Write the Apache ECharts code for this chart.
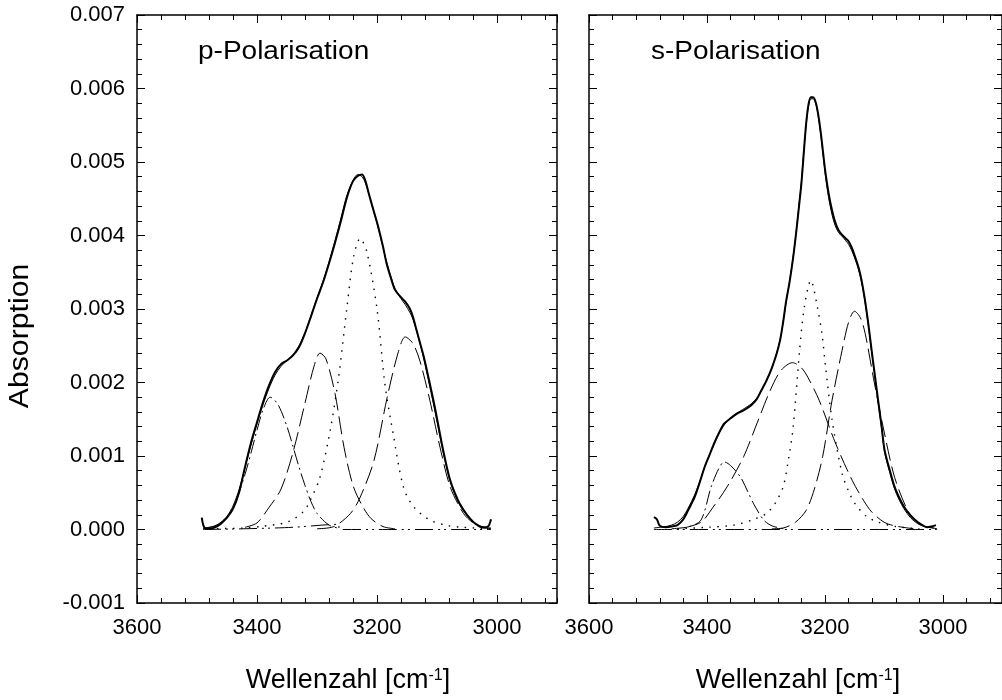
<!DOCTYPE html>
<html><head><meta charset="utf-8">
<script src="https://cdn.jsdelivr.net/npm/echarts@6/dist/echarts.min.js"></script>
<style>html,body{margin:0;padding:0;background:#fff}#c{width:1002px;height:700px}</style>
</head><body><div id="c"></div>
<script>
// ---- tick labels ----
const xTickLabels = [3600, 3400, 3200, 3000];
const yTickLabels = [-0.001, 0.000, 0.001, 0.002, 0.003, 0.004, 0.005, 0.006, 0.007];

// ---- p-Polarisation ----
const pMeasWn  = [3492,3488,3480,3470,3460,3450,3440,3430,3420,3410,3400,3390,3380,3370,3360,3350,3340,3330,3320,3310,3300,3290,3280,3270,3260,3250,3240,3232,3225,3220,3212,3205,3198,3190,3184,3176,3170,3160,3153,3145,3140,3134,3128,3122,3114,3106,3099,3092,3085,3078,3070,3062,3050,3039,3030,3023,3015,3010];
const pMeasAbs = [0.00016,0.00003,0.00001,0.00003,0.00008,0.00016,0.00028,0.00050,0.00085,0.00118,0.00146,0.00173,0.00196,0.00214,0.00225,0.00230,0.00237,0.00248,0.00267,0.00290,0.00314,0.00336,0.00362,0.00390,0.00420,0.00452,0.00474,0.00481,0.00483,0.00476,0.00452,0.00432,0.00412,0.00385,0.00362,0.00340,0.00326,0.00316,0.00310,0.00300,0.00289,0.00271,0.00253,0.00235,0.00206,0.00176,0.00147,0.00117,0.00090,0.00067,0.00049,0.00035,0.00020,0.00010,0.00005,0.00003,0.00004,0.00014];
const pFitWn   = [3490,3480,3470,3460,3450,3440,3430,3420,3410,3400,3390,3380,3370,3360,3350,3340,3330,3320,3310,3300,3290,3280,3270,3260,3250,3240,3232,3225,3220,3212,3205,3198,3190,3184,3176,3170,3160,3153,3145,3140,3134,3128,3122,3114,3106,3099,3092,3085,3078,3070,3062,3050,3039,3030,3020,3010];
const pFitAbs  = [0.00002,0.00003,0.00005,0.00010,0.00018,0.00032,0.00054,0.00084,0.00115,0.00144,0.00170,0.00192,0.00210,0.00222,0.00230,0.00238,0.00250,0.00268,0.00291,0.00315,0.00338,0.00364,0.00393,0.00424,0.00455,0.00475,0.00483,0.00480,0.00473,0.00452,0.00431,0.00410,0.00384,0.00364,0.00342,0.00328,0.00314,0.00306,0.00295,0.00286,0.00270,0.00252,0.00232,0.00202,0.00171,0.00143,0.00114,0.00088,0.00065,0.00047,0.00033,0.00019,0.00010,0.00005,0.00003,0.00002];
const pC1Wn  = [3490,3460,3440,3420,3400,3390,3378,3365,3350,3340,3330,3320,3310,3300,3280,3260];
const pC1Abs = [0.00001,0.00008,0.00030,0.00075,0.00135,0.00163,0.00180,0.00170,0.00140,0.00113,0.00085,0.00060,0.00038,0.00022,0.00006,0.00001];
const pC2Wn  = [3420,3400,3380,3360,3340,3320,3305,3295,3285,3270,3255,3240,3225,3210,3190,3170];
const pC2Abs = [0.00003,0.00009,0.00030,0.00055,0.00105,0.00172,0.00222,0.00240,0.00232,0.00185,0.00112,0.00060,0.00033,0.00015,0.00004,0.00001];
const pC3Wn  = [3480,3420,3395,3350,3323,3310,3295,3278,3264,3250,3239,3228,3217,3200,3187,3173,3156,3139,3112,3080,3056,3010];
const pC3Abs = [0.00001,0.00002,0.00004,0.00010,0.00024,0.00042,0.00071,0.00135,0.00207,0.00303,0.00371,0.00396,0.00378,0.00300,0.00199,0.00130,0.00058,0.00031,0.00013,0.00005,0.00003,0.00001];
const pC4Wn  = [3300,3272,3244,3228,3205,3183,3165,3153,3140,3128,3112,3095,3078,3056,3040,3028,3010];
const pC4Abs = [0.00001,0.00004,0.00022,0.00044,0.00094,0.00180,0.00240,0.00262,0.00253,0.00228,0.00176,0.00112,0.00058,0.00022,0.00009,0.00003,0.00001];
const pBaseWn  = [3490,3420,3340,3265,3262,3200,3010];
const pBaseAbs = [0.00000,0.00001,0.00003,0.00007,0.00000,0.00000,0.00000];

// ---- s-Polarisation ----
const sMeasWn  = [3490,3485,3480,3470,3460,3450,3440,3432,3421,3412,3404,3396,3388,3380,3371,3362,3354,3346,3340,3332,3325,3316,3308,3299,3290,3282,3276,3271,3266,3260,3254,3249,3244,3240,3236,3232,3228,3224,3220,3215,3211,3207,3203,3199,3194,3188,3183,3177,3170,3165,3160,3155,3149,3143,3138,3133,3129,3125,3121,3116,3110,3104,3099,3090,3082,3074,3066,3055,3043,3035,3027,3020,3012];
const sMeasAbs = [0.00017,0.00014,0.00005,0.00003,0.00004,0.00006,0.00014,0.00026,0.00044,0.00065,0.00085,0.00101,0.00117,0.00131,0.00144,0.00150,0.00155,0.00159,0.00161,0.00165,0.00169,0.00177,0.00189,0.00203,0.00220,0.00239,0.00258,0.00282,0.00310,0.00337,0.00370,0.00403,0.00440,0.00471,0.00512,0.00552,0.00578,0.00588,0.00588,0.00579,0.00562,0.00539,0.00511,0.00484,0.00458,0.00434,0.00419,0.00407,0.00400,0.00396,0.00392,0.00384,0.00371,0.00356,0.00339,0.00316,0.00294,0.00270,0.00244,0.00213,0.00176,0.00140,0.00108,0.00080,0.00058,0.00043,0.00031,0.00019,0.00010,0.00006,0.00003,0.00004,0.00006];
const sFitWn   = [3490,3480,3470,3460,3450,3440,3432,3421,3412,3404,3396,3388,3380,3371,3362,3354,3346,3340,3332,3325,3316,3308,3299,3290,3282,3276,3271,3266,3260,3254,3249,3244,3240,3236,3232,3228,3224,3220,3215,3211,3207,3203,3199,3194,3188,3183,3177,3170,3165,3160,3155,3149,3143,3138,3133,3129,3125,3121,3116,3110,3104,3099,3090,3082,3074,3066,3055,3043,3035,3027,3015];
const sFitAbs  = [0.00002,0.00003,0.00004,0.00006,0.00010,0.00018,0.00029,0.00047,0.00066,0.00085,0.00101,0.00116,0.00130,0.00142,0.00150,0.00156,0.00160,0.00163,0.00167,0.00171,0.00178,0.00189,0.00203,0.00220,0.00240,0.00259,0.00282,0.00309,0.00338,0.00371,0.00404,0.00442,0.00473,0.00513,0.00550,0.00576,0.00586,0.00586,0.00577,0.00560,0.00536,0.00508,0.00480,0.00452,0.00428,0.00414,0.00404,0.00398,0.00393,0.00388,0.00380,0.00368,0.00353,0.00336,0.00314,0.00292,0.00268,0.00242,0.00211,0.00173,0.00137,0.00105,0.00077,0.00055,0.00040,0.00028,0.00016,0.00008,0.00005,0.00003,0.00002];
const sC1Wn  = [3460,3430,3410,3393,3380,3371,3360,3343,3330,3321,3304,3290,3270];
const sC1Abs = [0.00001,0.00004,0.00013,0.00058,0.00083,0.00092,0.00087,0.00071,0.00050,0.00035,0.00013,0.00005,0.00001];
const sC2Wn  = [3440,3410,3390,3366,3338,3315,3293,3275,3255,3240,3229,3210,3182,3154,3135,3121,3100,3082,3050];
const sC2Abs = [0.00002,0.00010,0.00030,0.00058,0.00099,0.00145,0.00189,0.00216,0.00227,0.00220,0.00207,0.00176,0.00117,0.00067,0.00040,0.00024,0.00010,0.00005,0.00001];
const sC3Wn  = [3450,3400,3354,3320,3299,3285,3271,3262,3254,3243,3235,3224,3213,3205,3199,3188,3171,3160,3149,3130,3110,3080,3040];
const sC3Abs = [0.00001,0.00003,0.00006,0.00014,0.00022,0.00035,0.00058,0.00095,0.00139,0.00244,0.00303,0.00339,0.00303,0.00265,0.00221,0.00149,0.00076,0.00052,0.00035,0.00018,0.00010,0.00004,0.00001];
const sC4Wn  = [3290,3271,3250,3232,3218,3204,3188,3171,3160,3150,3140,3132,3116,3099,3082,3060,3045,3032,3010];
const sC4Abs = [0.00001,0.00002,0.00010,0.00026,0.00055,0.00099,0.00176,0.00244,0.00282,0.00297,0.00288,0.00267,0.00198,0.00130,0.00071,0.00026,0.00011,0.00005,0.00001];
const sBaseWn  = [3490,3010];
const sBaseAbs = [0.00000,0.00000];

// ---- build ----
const FONT = '"Liberation Sans", Arial, sans-serif';
const pts = (wn, ab) => wn.map((w, i) => [-w, ab[i]]);
const BLACK = '#000';

function xAxes(g) {
  const common = {gridIndex: g, type: 'value', min: -3600, max: -2900, splitLine: {show: false}};
  return [
    Object.assign({}, common, {position: 'bottom', interval: 200,
      axisLine: {show: true, onZero: false, lineStyle: {color: BLACK, width: 1.5}},
      axisTick: {show: true, inside: true, length: 8, lineStyle: {color: BLACK, width: 1}},
      axisLabel: {show: true, margin: 14, color: BLACK, fontSize: 22, fontFamily: FONT,
        showMinLabel: true, showMaxLabel: false,
        formatter: v => xTickLabels.indexOf(Math.round(-v)) >= 0 ? String(Math.round(-v)) : ''}}),
    Object.assign({}, common, {position: 'bottom', interval: 40,
      axisLine: {show: false, onZero: false},
      axisTick: {show: true, inside: true, length: 5, lineStyle: {color: BLACK, width: 1}},
      axisLabel: {show: false}}),
    Object.assign({}, common, {position: 'top', interval: 200,
      axisLine: {show: true, onZero: false, lineStyle: {color: BLACK, width: 1.5}},
      axisTick: {show: true, inside: true, length: 8, lineStyle: {color: BLACK, width: 1}},
      axisLabel: {show: false}}),
    Object.assign({}, common, {position: 'top', interval: 40,
      axisLine: {show: false, onZero: false},
      axisTick: {show: true, inside: true, length: 5, lineStyle: {color: BLACK, width: 1}},
      axisLabel: {show: false}})
  ];
}
function yAxes(g, labels) {
  const common = {gridIndex: g, type: 'value', min: -0.001, max: 0.007, interval: 0.001,
    splitLine: {show: false}, minorSplitLine: {show: false},
    axisLine: {show: true, onZero: false, lineStyle: {color: BLACK, width: 1.5}},
    axisTick: {show: true, inside: true, length: 8, lineStyle: {color: BLACK, width: 1}},
    minorTick: {show: true, splitNumber: 5, length: 5, lineStyle: {color: BLACK, width: 1}}};
  return [
    Object.assign({}, common, {position: 'left',
      axisLabel: {show: labels, margin: 12, color: BLACK, fontSize: 22, fontFamily: FONT,
        showMinLabel: true, showMaxLabel: true,
        formatter: v => {
          let best = yTickLabels[0];
          yTickLabels.forEach(t => { if (Math.abs(t - v) < Math.abs(best - v)) best = t; });
          return best.toFixed(3);
        }}}),
    Object.assign({}, common, {position: 'right', axisLabel: {show: false}})
  ];
}
function line(data, xi, yi, width, type) {
  return {type: 'line', data: data, xAxisIndex: xi, yAxisIndex: yi, showSymbol: false, symbol: 'none',
    smooth: 0.3, silent: true, animation: false,
    lineStyle: {color: BLACK, width: width, type: type}};
}
const DASH = [18, 6], DOT = [1.5, 6.5], DASHDOT = [14, 4, 2, 4], DASHDOTDOT = [18, 5, 2, 4, 2, 5];

const option = {
  backgroundColor: '#fff',
  animation: false,
  grid: [
    {left: 137, top: 15, width: 420, height: 588},
    {left: 589, top: 15, width: 420, height: 588}
  ],
  xAxis: xAxes(0).concat(xAxes(1)),
  yAxis: yAxes(0, true).concat(yAxes(1, false)),
  series: [
    line(pts(pBaseWn, pBaseAbs), 0, 0, 1, DASHDOTDOT),
    line(pts(pC1Wn, pC1Abs), 0, 0, 1, DASHDOT),
    line(pts(pC2Wn, pC2Abs), 0, 0, 1, DASH),
    line(pts(pC3Wn, pC3Abs), 0, 0, 1.4, DOT),
    line(pts(pC4Wn, pC4Abs), 0, 0, 1, DASH),
    line(pts(pFitWn, pFitAbs), 0, 0, 1, 'solid'),
    line(pts(pMeasWn, pMeasAbs), 0, 0, 2, 'solid'),
    line(pts(sBaseWn, sBaseAbs), 4, 2, 1, DASHDOTDOT),
    line(pts(sC1Wn, sC1Abs), 4, 2, 1, DASHDOT),
    line(pts(sC2Wn, sC2Abs), 4, 2, 1, DASH),
    line(pts(sC3Wn, sC3Abs), 4, 2, 1.4, DOT),
    line(pts(sC4Wn, sC4Abs), 4, 2, 1, DASH),
    line(pts(sFitWn, sFitAbs), 4, 2, 1, 'solid'),
    line(pts(sMeasWn, sMeasAbs), 4, 2, 2, 'solid')
  ],
  graphic: [
    {type: 'text', x: 198, y: 52, scaleX: 1.12, silent: true,
      style: {text: 'p-Polarisation', font: '25px ' + FONT, fill: BLACK, textAlign: 'left', textVerticalAlign: 'middle'}},
    {type: 'text', x: 651, y: 52, scaleX: 1.12, silent: true,
      style: {text: 's-Polarisation', font: '25px ' + FONT, fill: BLACK, textAlign: 'left', textVerticalAlign: 'middle'}},
    {type: 'text', x: 21, y: 336, rotation: Math.PI / 2, scaleX: 1.12, silent: true,
      style: {text: 'Absorption', font: '27px ' + FONT, fill: BLACK, textAlign: 'center', textVerticalAlign: 'middle'}},
    {type: 'text', x: 348, y: 681, silent: true,
      style: {text: '{a|Wellenzahl [cm}{s|-1}{a|]}', fill: BLACK, textAlign: 'center', textVerticalAlign: 'middle',
        rich: {a: {fontSize: 27, fontFamily: FONT, fill: BLACK}, s: {fontSize: 16, fontFamily: FONT, fill: BLACK, verticalAlign: 'top'}}}},
    {type: 'text', x: 798, y: 681, silent: true,
      style: {text: '{a|Wellenzahl [cm}{s|-1}{a|]}', fill: BLACK, textAlign: 'center', textVerticalAlign: 'middle',
        rich: {a: {fontSize: 27, fontFamily: FONT, fill: BLACK}, s: {fontSize: 16, fontFamily: FONT, fill: BLACK, verticalAlign: 'top'}}}}
  ]
};
const chart = echarts.init(document.getElementById('c'), null, {renderer: 'canvas'});
chart.setOption(option);
</script></body></html>
